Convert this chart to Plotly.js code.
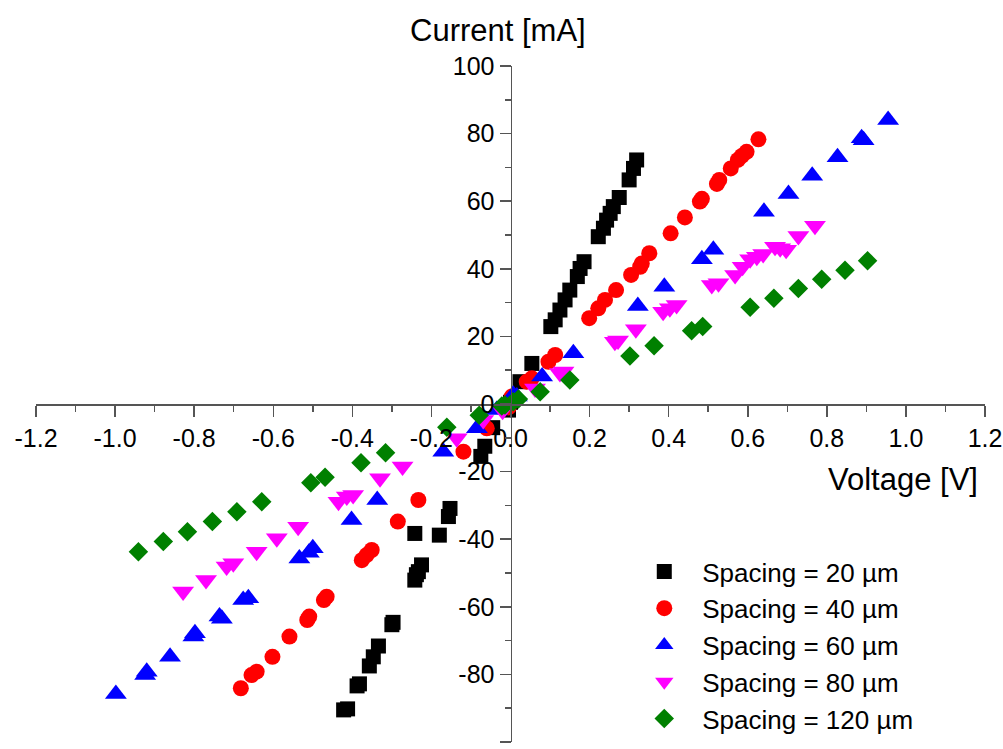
<!DOCTYPE html>
<html>
<head>
<meta charset="utf-8">
<script src="https://cdn.plot.ly/plotly-3.0.1.min.js"></script>
<style>html,body{margin:0;padding:0;background:#fff;}#chart{width:1003px;height:749px;}</style>
</head>
<body>
<div id="chart"></div>
<script>
// Series names
const seriesNames = ["Spacing = 20 µm", "Spacing = 40 µm", "Spacing = 60 µm", "Spacing = 80 µm", "Spacing = 120 µm"];

// Voltage [V] and Current [mA] for each spacing
const V_20 = [-0.422,-0.412,-0.388,-0.382,-0.357,-0.347,-0.334,-0.300,-0.297,-0.242,-0.238,-0.233,-0.225,-0.242,-0.180,-0.157,-0.153,-0.075,-0.065,-0.045,-0.005,0.000,0.024,0.054,0.102,0.113,0.125,0.138,0.150,0.169,0.176,0.186,0.222,0.235,0.243,0.252,0.260,0.275,0.300,0.311,0.319];
const I_20 = [-90.5,-90.2,-83.4,-82.8,-77.5,-74.8,-71.6,-65.3,-64.6,-52.1,-50.5,-49.6,-47.6,-38.3,-38.8,-33.3,-30.9,-15.5,-12.5,-7.0,-1.8,0.5,6.6,12.0,22.9,24.9,27.8,30.8,33.7,37.7,40.1,42.1,49.5,52.0,54.4,56.4,58.4,61.1,66.3,69.7,72.2];

const V_40 = [-0.682,-0.655,-0.642,-0.602,-0.559,-0.514,-0.509,-0.472,-0.465,-0.376,-0.364,-0.351,-0.285,-0.233,-0.119,-0.060,-0.005,0.003,0.041,0.054,0.096,0.113,0.199,0.222,0.239,0.267,0.305,0.328,0.332,0.351,0.405,0.441,0.479,0.484,0.522,0.528,0.557,0.575,0.585,0.597,0.627];
const I_40 = [-84.1,-80.2,-79.2,-74.8,-68.8,-63.9,-62.9,-58.0,-57.0,-46.2,-44.7,-43.2,-34.8,-28.4,-14.1,-7.2,-1.0,2.2,6.6,7.6,12.5,14.5,25.4,28.3,30.8,33.7,38.2,40.6,41.6,44.6,50.5,55.2,59.9,60.7,65.1,66.3,69.7,72.2,73.4,74.6,78.3];

const V_60 = [-0.998,-0.924,-0.920,-0.861,-0.802,-0.798,-0.736,-0.730,-0.676,-0.663,-0.534,-0.510,-0.500,-0.402,-0.337,-0.170,-0.085,-0.035,0.007,0.016,0.080,0.159,0.322,0.389,0.484,0.513,0.641,0.703,0.763,0.827,0.888,0.893,0.955];
const I_60 = [-85.8,-80.2,-79.2,-74.8,-68.8,-67.8,-62.9,-63.5,-58.0,-57.5,-45.7,-44.0,-42.7,-34.3,-28.4,-14.1,-7.2,-1.8,2.7,2.2,8.1,15.0,29.0,34.7,42.8,45.6,56.9,62.1,67.5,73.0,78.6,78.0,84.0];

const V_80 = [-0.828,-0.770,-0.718,-0.701,-0.642,-0.591,-0.537,-0.435,-0.414,-0.398,-0.330,-0.273,-0.136,-0.069,-0.020,0.062,0.125,0.134,0.264,0.272,0.317,0.386,0.403,0.420,0.509,0.526,0.568,0.587,0.606,0.623,0.639,0.669,0.682,0.697,0.728,0.770];
const I_80 = [-55.5,-52.1,-48.1,-47.1,-43.7,-39.7,-36.3,-28.9,-27.4,-26.9,-22.0,-18.5,-10.1,-4.7,-2.0,4.6,9.2,9.6,18.4,18.8,22.1,27.3,28.3,29.3,35.2,35.7,38.2,40.6,42.8,43.6,44.4,46.5,46.1,45.6,49.7,52.7];

const V_120 = [-0.941,-0.878,-0.817,-0.754,-0.692,-0.629,-0.505,-0.469,-0.378,-0.316,-0.161,-0.079,-0.022,-0.014,0.007,0.020,0.075,0.150,0.302,0.363,0.458,0.486,0.606,0.666,0.728,0.787,0.846,0.903];
const I_120 = [-43.7,-40.7,-37.8,-34.8,-31.9,-28.9,-23.3,-21.7,-17.4,-14.4,-6.9,-3.3,-0.6,-0.3,0.7,1.5,3.6,7.1,14.2,17.2,21.7,22.9,28.6,31.3,34.2,36.9,39.6,42.4];

// Tick labels
const xTickVals = [-1.2,-1.0,-0.8,-0.6,-0.4,-0.2,0.0,0.2,0.4,0.6,0.8,1.0,1.2];
const xTickText = ["-1.2","-1.0","-0.8","-0.6","-0.4","-0.2","0.0","0.2","0.4","0.6","0.8","1.0","1.2"];
const yTickVals = [-100,-80,-60,-40,-20,0,20,40,60,80,100];
const yTickText = ["-100","-80","-60","-40","-20","0","20","40","60","80","100"];

const xs = [V_20, V_40, V_60, V_80, V_120];
const ys = [I_20, I_40, I_60, I_80, I_120];
const colors = ["#000000", "#ff0000", "#0000ff", "#ff00ff", "#008000"];
const symbols = ["square", "circle", "triangle-up", "triangle-down", "diamond"];
const sizes = [15, 16, 19, 19, 15];

const traces = xs.map((x, i) => ({
  type: "scatter", mode: "markers", x: x, y: ys[i], name: seriesNames[i],
  marker: {symbol: symbols[i], color: colors[i], size: sizes[i], line: {width: 0}},
  hoverinfo: "skip"
}));

const FONT = "Liberation Sans, Arial, sans-serif";
const axisCommon = {
  showgrid: false, zeroline: false, showline: true, linecolor: "#555", linewidth: 1.5,
  ticks: "outside", ticklen: 11, tickwidth: 1.5, tickcolor: "#555",
  tickfont: {family: FONT, size: 25, color: "#000"}, tickmode: "array",
  automargin: false, fixedrange: true
};

const layout = {
  width: 1003, height: 749,
  margin: {l: 36, r: 18, t: 66, b: 7, pad: 0, autoexpand: false},
  paper_bgcolor: "#fff", plot_bgcolor: "#fff",
  showlegend: true,
  xaxis: Object.assign({}, axisCommon, {
    range: [-1.2, 1.2], tickvals: xTickVals, ticktext: xTickText,
    anchor: "free", position: 0.5,
    minor: {ticks: "outside", ticklen: 6, tickwidth: 1.5, tickcolor: "#555", tickmode: "linear", tick0: 0, dtick: 0.1}
  }),
  yaxis: Object.assign({}, axisCommon, {
    range: [-100, 100], tickvals: yTickVals, ticktext: yTickText,
    anchor: "free", position: 0.5,
    minor: {ticks: "outside", ticklen: 6, tickwidth: 1.5, tickcolor: "#555", tickmode: "linear", tick0: 0, dtick: 10}
  }),
  legend: {
    x: 0.622, y: 0.287, xanchor: "left", yanchor: "top",
    bgcolor: "rgba(0,0,0,0)", borderwidth: 0,
    font: {family: FONT, size: 26, color: "#000"},
    itemwidth: 66, tracegroupgap: 0
  },
  annotations: [
    {text: "Current [mA]", xref: "paper", yref: "paper", x: 0.487, y: 1.053, xanchor: "center", yanchor: "middle", showarrow: false, font: {family: FONT, size: 31, color: "#000"}},
    {text: "Voltage [V]", xref: "paper", yref: "paper", x: 0.914, y: 0.389, xanchor: "center", yanchor: "middle", showarrow: false, font: {family: FONT, size: 31, color: "#000"}}
  ]
};

Plotly.newPlot("chart", traces, layout, {displayModeBar: false, staticPlot: true});
</script>
</body>
</html>
